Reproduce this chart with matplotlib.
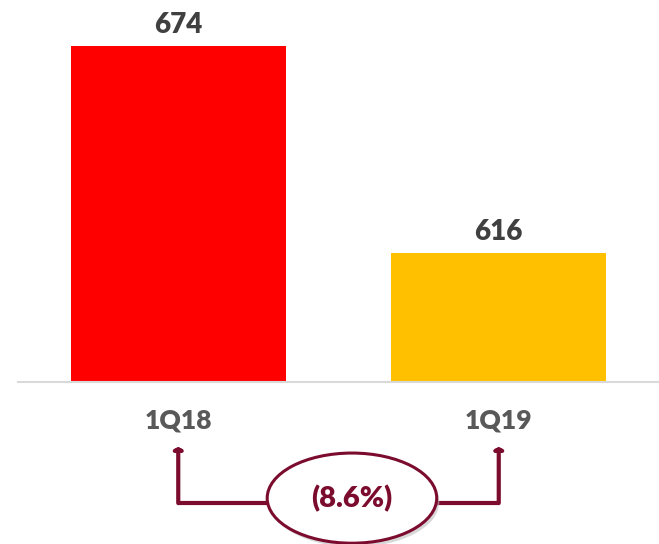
import matplotlib

matplotlib.use("Agg")
import matplotlib.pyplot as plt
from matplotlib.patches import Ellipse

# data
quarters = ['1Q18', '1Q19']
values = [674, 616]
bar_colors = ['#FF0000', '#FFC000']

change = (values[1] - values[0]) / values[0] * 100
change_label = '({:.1f}%)'.format(abs(change)) if change < 0 else '{:.1f}%'.format(change)

maroon = '#7B0C2E'
plt.rcParams['font.family'] = ['Lato', 'DejaVu Sans']

fig = plt.figure(figsize=(6.59, 5.44), dpi=100)
ax = fig.add_axes([18 / 659, 1 - 382 / 544, 1 - 18 / 659, 382 / 544])

x = list(range(len(quarters)))
ax.bar(x, values, width=0.67, color=bar_colors, zorder=2)
ax.set_xlim(-0.5, 1.5)
ax.set_ylim(580, 687)

for xi, v in zip(x, values):
    ax.annotate(str(v), (xi, v), xytext=(0, 10), textcoords='offset points',
                ha='center', va='baseline', fontsize=20, fontweight='heavy', color='#404040')

for s in ['top', 'right', 'left']:
    ax.spines[s].set_visible(False)
ax.spines['bottom'].set_color('#D9D9D9')
ax.spines['bottom'].set_linewidth(1.5)
ax.set_yticks([])
ax.set_xticks(x)
ax.set_xticklabels(quarters, fontsize=19, fontweight='heavy', color='#595959')
ax.tick_params(axis='x', length=0, pad=19)

# bracket showing change between the two quarters
tr = ax.get_xaxis_transform()
y_top, y_low = -0.17, -0.317
for xi in x:
    ax.annotate('', xy=(xi, y_top), xytext=(xi, y_low), xycoords=tr, textcoords=tr,
                arrowprops=dict(arrowstyle='-|>,head_length=0.12,head_width=0.25',
                                color=maroon, lw=3, shrinkA=0, shrinkB=0),
                annotation_clip=False)
ax.plot([x[0], x[1]], [y_low, y_low], color=maroon, lw=3, transform=tr,
        clip_on=False, solid_capstyle='butt', zorder=3)

cx, cy = 0.542, -0.304
shadow = Ellipse((cx + 0.008, cy - 0.01), 0.529, 0.236, transform=tr,
                 facecolor='#BFBFBF', edgecolor='none', alpha=0.6, clip_on=False, zorder=4)
ell = Ellipse((cx, cy), 0.529, 0.236, transform=tr, facecolor='white',
              edgecolor=maroon, lw=2.2, clip_on=False, zorder=5)
ax.add_patch(shadow)
ax.add_patch(ell)
ax.text(cx, cy, change_label, transform=tr, ha='center', va='center',
        fontsize=21, fontweight='heavy', color=maroon, zorder=6)

plt.savefig('out.png', dpi=100)
